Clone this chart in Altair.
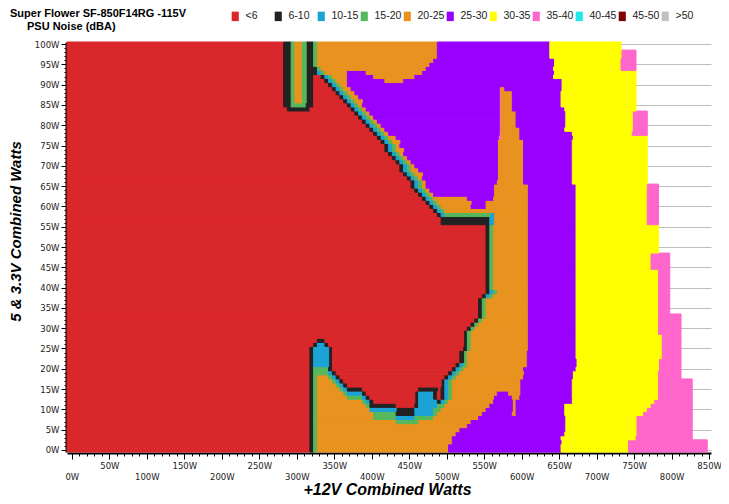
import altair as alt
import pandas as pd

CLASSES = ["<6", "6-10", "10-15", "15-20", "20-25", "25-30", "30-35", "35-40", "40-45", "45-50", ">50"]
COLORS = ["#D9272B", "#222222", "#1BA3D6", "#55B85C", "#E8921F", "#9900FF", "#FFFF00", "#FF66CC", "#22E6EA", "#800000", "#C0C0C0"]
CODES = {"R": "<6", "K": "6-10", "B": "10-15", "G": "15-20", "O": "20-25", "P": "25-30", "Y": "30-35", "M": "35-40"}

TITLE_LINES = ["Super Flower SF-850F14RG -115V", "PSU Noise (dBA)"]

X_START = -6.5
X_END = 852.5

FINGER = "R:282.5 K:292.5 G:297.5 O:307.5 G:312.5 K:322.5"

# (top row W, bottom row W, runs "class:end-watts" from the left edge)
LEFT_BANDS = [
    (100, 97, FINGER + " G:327.5 O:487.5"),
    (96, 96, FINGER + " G:327.5 O:482.5"),
    (95, 95, FINGER + " G:327.5 O:477.5"),
    (94, 94, FINGER + " K:327.5 G:332.5 O:472.5"),
    (93, 93, FINGER + " K:327.5 B:332.5 G:337.5 O:367.5 P:392.5 O:467.5"),
    (92, 92, FINGER + " R:332.5 K:337.5 B:342.5 G:347.5 O:367.5 P:402.5 O:457.5"),
    (91, 91, FINGER + " R:337.5 K:342.5 B:347.5 G:352.5 O:367.5 P:417.5 O:442.5"),
    (90, 90, FINGER + " R:342.5 K:347.5 B:352.5 G:357.5 O:367.5"),
    (89, 89, FINGER + " R:347.5 K:352.5 B:357.5 G:362.5 O:372.5 P:570 M:572.5 O:577.5"),
    (88, 88, FINGER + " R:352.5 K:357.5 B:362.5 G:367.5 O:377.5 P:570 M:572.5 O:587.5"),
    (87, 87, FINGER + " R:357.5 K:362.5 B:367.5 G:372.5 O:382.5 P:570 M:572.5 O:587.5"),
    (86, 86, FINGER + " R:362.5 K:367.5 B:372.5 G:377.5 O:387.5 P:570 M:572.5 O:587.5"),
    (85, 85, "R:282.5 K:292.5 G:312.5 K:322.5 R:367.5 K:372.5 B:377.5 G:382.5 O:387.5 P:570 M:572.5 O:587.5"),
    (84, 84, "R:287.5 K:317.5 R:372.5 K:377.5 B:382.5 G:387.5 O:392.5 P:570 M:572.5 O:587.5"),
    (83, 83, "R:377.5 K:382.5 B:387.5 G:392.5 O:397.5 P:570 M:572.5 O:592.5"),
    (82, 82, "R:382.5 K:387.5 B:392.5 G:397.5 O:402.5 P:570 M:572.5 O:592.5"),
    (81, 81, "R:387.5 K:392.5 B:397.5 G:402.5 O:407.5 P:570 M:572.5 O:592.5"),
    (80, 80, "R:392.5 K:397.5 B:402.5 G:407.5 O:412.5 P:570 M:572.5 O:592.5"),
    (79, 79, "R:397.5 K:402.5 B:407.5 G:412.5 O:417.5 P:570 M:572.5 O:597.5"),
    (78, 78, "R:402.5 K:407.5 B:412.5 G:417.5 O:422.5 P:570 M:572.5 O:597.5"),
    (77, 77, "R:407.5 K:412.5 B:417.5 G:422.5 O:432.5 P:570 M:572.5 O:597.5"),
    (76, 76, "R:412.5 K:417.5 B:422.5 G:427.5 O:437.5 P:567.5 O:602.5"),
    (75, 75, "R:417.5 K:422.5 B:427.5 G:432.5 O:437.5 P:567.5 O:602.5"),
    (74, 74, "R:417.5 K:422.5 B:427.5 G:432.5 O:442.5 P:567.5 O:602.5"),
    (73, 73, "R:422.5 K:427.5 B:432.5 G:437.5 O:442.5 P:567.5 O:602.5"),
    (72, 72, "R:427.5 K:432.5 B:437.5 G:442.5 O:447.5 P:567.5 O:602.5"),
    (71, 71, "R:432.5 K:437.5 B:442.5 G:447.5 O:452.5 P:567.5 O:602.5"),
    (70, 70, "R:437.5 K:442.5 B:447.5 G:452.5 O:457.5 P:567.5 O:602.5"),
    (69, 69, "R:437.5 K:442.5 B:447.5 G:452.5 O:462.5 P:567.5 O:602.5"),
    (68, 68, "R:442.5 K:447.5 B:452.5 G:457.5 O:467.5 P:567.5 O:602.5"),
    (67, 67, "R:447.5 K:452.5 B:457.5 G:462.5 O:467.5 P:567.5 O:602.5"),
    (66, 66, "R:452.5 K:457.5 B:462.5 G:467.5 O:472.5 P:567.5 O:602.5"),
    (65, 65, "R:452.5 K:457.5 B:462.5 G:467.5 O:472.5 P:562.5 O:607.5"),
    (64, 64, "R:457.5 K:462.5 B:467.5 G:472.5 O:477.5 P:562.5 O:607.5"),
    (63, 63, "R:462.5 K:467.5 B:472.5 G:477.5 O:482.5 P:562.5 O:607.5"),
    (62, 62, "R:467.5 K:472.5 B:477.5 G:482.5 O:527.5 P:562.5 O:607.5"),
    (61, 61, "R:472.5 K:477.5 B:482.5 G:487.5 O:532.5 P:552.5 O:607.5"),
    (60, 60, "R:477.5 K:482.5 B:487.5 G:492.5 O:532.5 P:552.5 O:607.5"),
    (59, 59, "R:482.5 K:487.5 B:492.5 G:497.5 O:607.5"),
    (58, 58, "R:487.5 K:492.5 B:497.5 G:557.5 B:562.5 O:607.5"),
    (57, 56, "R:492.5 K:557.5 B:562.5 O:607.5"),
    (55, 40, "R:552.5 K:557.5 G:562.5 O:607.5"),
    (39, 39, "R:552.5 K:557.5 B:562.5 G:567.5 O:607.5"),
    (38, 38, "R:547.5 K:552.5 B:557.5 G:562.5 O:607.5"),
    (37, 33, "R:542.5 K:547.5 G:552.5 O:607.5"),
    (32, 32, "R:537.5 K:542.5 G:547.5 O:607.5"),
    (31, 31, "R:532.5 K:537.5 G:542.5 O:607.5"),
    (30, 30, "R:527.5 K:532.5 G:537.5 O:607.5"),
    (29, 28, "R:522.5 K:527.5 G:532.5 O:607.5"),
    (27, 27, "R:327.5 K:337.5 R:522.5 K:527.5 G:532.5 O:607.5"),
    (26, 26, "R:322.5 K:327.5 B:337.5 K:342.5 R:522.5 K:527.5 G:532.5 O:607.5"),
    (25, 25, "R:317.5 K:322.5 B:342.5 K:347.5 R:522.5 K:527.5 G:532.5 O:607.5"),
    (24, 22, "R:317.5 K:322.5 B:342.5 K:347.5 R:517.5 K:522.5 G:527.5 O:607.5"),
    (21, 21, "R:317.5 K:322.5 B:342.5 K:347.5 R:512.5 K:517.5 B:522.5 G:527.5 O:607.5"),
    (20, 20, "R:317.5 K:322.5 G:342.5 K:347.5 R:507.5 K:512.5 B:517.5 G:522.5 O:602.5"),
    (19, 19, "R:317.5 K:322.5 G:342.5 B:347.5 K:352.5 R:502.5 K:507.5 B:512.5 G:517.5 O:602.5"),
    (18, 18, "R:317.5 K:322.5 G:327.5 O:342.5 G:347.5 B:352.5 K:357.5 R:497.5 K:502.5 B:507.5 G:512.5 O:602.5"),
    (17, 17, "R:317.5 K:322.5 G:327.5 O:347.5 G:352.5 B:357.5 K:362.5 R:492.5 K:497.5 B:502.5 G:507.5 O:597.5"),
    (16, 16, "R:317.5 K:322.5 G:327.5 O:352.5 G:357.5 B:362.5 K:367.5 R:492.5 K:497.5 B:502.5 G:507.5 O:597.5"),
    (15, 15, "R:317.5 K:322.5 G:327.5 O:357.5 G:362.5 B:367.5 K:387.5 R:462.5 K:487.5 R:492.5 K:497.5 B:502.5 G:507.5 O:597.5"),
    (14, 14, "R:317.5 K:322.5 G:327.5 O:362.5 G:367.5 B:387.5 K:392.5 R:457.5 K:462.5 B:482.5 K:487.5 R:492.5 K:497.5 B:502.5 G:507.5 O:567.5 P:582.5 O:597.5"),
    (13, 13, "R:317.5 K:322.5 G:327.5 O:367.5 G:387.5 B:392.5 K:397.5 R:457.5 K:462.5 B:482.5 K:487.5 R:492.5 K:497.5 B:502.5 G:507.5 O:562.5 P:587.5 O:597.5"),
    (12, 12, "R:317.5 K:322.5 G:327.5 O:387.5 G:392.5 B:397.5 K:402.5 R:457.5 K:462.5 B:487.5 K:492.5 B:497.5 G:502.5 O:562.5 P:587.5 O:592.5"),
    (11, 11, "R:317.5 K:322.5 G:327.5 O:392.5 G:397.5 K:432.5 R:457.5 K:462.5 B:487.5 G:497.5 O:557.5 P:587.5 O:592.5"),
    (10, 10, "R:317.5 K:322.5 G:327.5 O:397.5 B:432.5 K:457.5 B:482.5 G:492.5 O:552.5 P:587.5 O:592.5"),
    (9, 9, "R:317.5 K:322.5 G:327.5 O:402.5 G:432.5 K:457.5 B:482.5 G:487.5 O:547.5 P:587.5 O:592.5"),
    (8, 8, "R:317.5 K:322.5 G:327.5 O:402.5 G:432.5 B:457.5 G:482.5 O:542.5"),
    (7, 7, "R:317.5 K:322.5 G:327.5 O:432.5 G:462.5 O:532.5"),
    (6, 6, "R:317.5 K:322.5 G:327.5 O:527.5"),
    (5, 5, "R:317.5 K:322.5 G:327.5 O:517.5"),
    (4, 4, "R:317.5 K:322.5 G:327.5 O:512.5"),
    (3, 2, "R:317.5 K:322.5 G:327.5 O:507.5"),
    (1, 0, "R:317.5 K:322.5 G:327.5 O:502.5"),
]

# (top row, bottom row, purple end, yellow end, pink end)
RIGHT_BANDS = [
    (100, 99, 637.5, 732.5, None),
    (98, 97, 637.5, 732.5, 752.5),
    (96, 94, 642.5, 732.5, 752.5),
    (93, 92, 642.5, 752.5, None),
    (91, 85, 652.5, 752.5, None),
    (84, 84, 657.5, 752.5, None),
    (83, 79, 657.5, 747.5, 767.5),
    (78, 78, 667.5, 747.5, 767.5),
    (77, 66, 667.5, 767.5, None),
    (65, 56, 672.5, 767.5, 782.5),
    (55, 49, 672.5, 782.5, None),
    (48, 45, 672.5, 772.5, 797.5),
    (44, 34, 672.5, 782.5, 797.5),
    (33, 29, 672.5, 782.5, 812.5),
    (28, 23, 672.5, 787.5, 812.5),
    (22, 20, 672.5, 782.5, 812.5),
    (19, 18, 667.5, 782.5, 812.5),
    (17, 13, 667.5, 782.5, 827.5),
    (12, 12, 667.5, 777.5, 827.5),
    (11, 11, 657.5, 772.5, 827.5),
    (10, 10, 657.5, 767.5, 827.5),
    (9, 9, 657.5, 762.5, 827.5),
    (8, 4, 657.5, 752.5, 827.5),
    (3, 3, 652.5, 752.5, 827.5),
    (2, 0, 652.5, 742.5, 847.5),
]

# ---- expand the run lists into cells (one row = 1 W of 5 & 3.3V load) ----
row_runs = {}
for top, bot, runs in LEFT_BANDS:
    for r in range(bot, top + 1):
        cells = []
        start = X_START
        for tok in runs.split():
            code, end = tok.split(":")
            end = float(end)
            cells.append((start, end, CODES[code]))
            start = end
        for rtop, rbot, p_end, y_end, m_end in RIGHT_BANDS:
            if rbot <= r <= rtop:
                cells.append((start, p_end, "25-30"))
                cells.append((p_end, y_end, "30-35"))
                if m_end is not None:
                    cells.append((y_end, m_end, "35-40"))
                break
        row_runs[r] = cells

# merge identical runs of consecutive rows into taller rectangles
records = []
active = {}
for r in range(0, 101):
    new_active = {}
    for x0, x1, band in row_runs[r]:
        key = (x0, x1, band)
        if key in active:
            rec = active[key]
            rec["y2"] = r + 0.5
        else:
            rec = {"x": x0, "x2": x1, "y": r - 0.5, "y2": r + 0.5, "band": band}
            records.append(rec)
        new_active[key] = rec
    active = new_active

df = pd.DataFrame(records)

color_scale = alt.Scale(domain=CLASSES, range=COLORS)

x_axis = alt.Axis(
    values=list(range(0, 851, 10)),
    labelExpr="datum.value % 100 === 0 ? ['', datum.value + 'W'] : (datum.value % 50 === 0 ? datum.value + 'W' : '')",
    labelFont="DejaVu Sans", labelFontSize=8.5, labelColor="#222222",
    labelLineHeight=11, labelBaseline="top", labelPadding=2,
    labelOverlap=False, labelFlush=False,
    tickSize={"condition": {"test": "datum.value % 50 === 0", "value": 6}, "value": 3},
    tickColor="black", tickWidth=1,
    domainColor="black", domainWidth=2, offset=1, grid=False,
    title="+12V Combined Watts",
    titleFont="Liberation Sans", titleFontSize=16, titleFontStyle="italic",
    titleFontWeight="bold", titleColor="black",
    titleX=320, titleY=36, titleBaseline="middle", titleAlign="center",
)

y_axis = alt.Axis(
    values=list(range(0, 101)),
    labelExpr="datum.value % 5 === 0 ? datum.value + 'W' : ''",
    labelFont="DejaVu Sans", labelFontSize=8.5, labelColor="#222222",
    labelPadding=2, labelOverlap=False, labelFlush=False,
    tickSize={"condition": {"test": "datum.value % 5 === 0", "value": 5}, "value": 2},
    tickColor="black", tickWidth=1,
    domainColor="black", domainWidth=2, offset=1,
    grid=True, gridColor="#BDBDBD", gridWidth=1,
    gridOpacity={"condition": {"test": "datum.value % 5 === 0", "value": 1}, "value": 0},
    title="5 & 3.3V Combined Watts",
    titleFont="Liberation Sans", titleFontSize=15, titleFontStyle="italic",
    titleFontWeight="bold", titleColor="black",
    titleX=-51, titleY=189, titleBaseline="middle", titleAlign="center", titleAngle=270,
)

legend = alt.Legend(
    title=None, orient="none", legendX=163, legendY=-31,
    direction="horizontal", columns=11, gridAlign="all", columnPadding=0,
    symbolType="M-0.75,-1H0.75V1H-0.75Z", symbolSize=90, symbolStrokeWidth=0,
    labelFont="Liberation Sans", labelFontSize=10.5, labelColor="#222222",
    labelOffset=5, padding=0,
)

heat = alt.Chart(df).mark_rect(strokeWidth=1).encode(
    x=alt.X("x:Q", scale=alt.Scale(domain=[X_START, X_END], nice=False, zero=False), axis=x_axis),
    x2="x2:Q",
    y=alt.Y("y:Q", scale=alt.Scale(domain=[-0.5, 100.5], nice=False, zero=False), axis=y_axis),
    y2="y2:Q",
    color=alt.Color("band:N", scale=color_scale, legend=legend),
    stroke=alt.Stroke("band:N", scale=alt.Scale(domain=CLASSES, range=COLORS), legend=None),
)

title1 = alt.Chart(pd.DataFrame({"t": [TITLE_LINES[0]]})).mark_text(
    align="left", baseline="alphabetic", font="Liberation Sans", fontSize=11,
    fontWeight="bold", color="black",
).encode(x=alt.value(-57), y=alt.value(-25), text="t:N")

title2 = alt.Chart(pd.DataFrame({"t": [TITLE_LINES[1]]})).mark_text(
    align="left", baseline="alphabetic", font="Liberation Sans", fontSize=11,
    fontWeight="bold", color="black",
).encode(x=alt.value(-40), y=alt.value(-12), text="t:N")

chart = alt.layer(heat, title1, title2).properties(
    width=644, height=410,
    autosize="none",
    padding={"left": 59, "top": 34, "right": 10, "bottom": 44},
    background="white",
).configure_view(stroke=None)

chart.save("out.html", embed_options={"renderer": "svg", "actions": False})
